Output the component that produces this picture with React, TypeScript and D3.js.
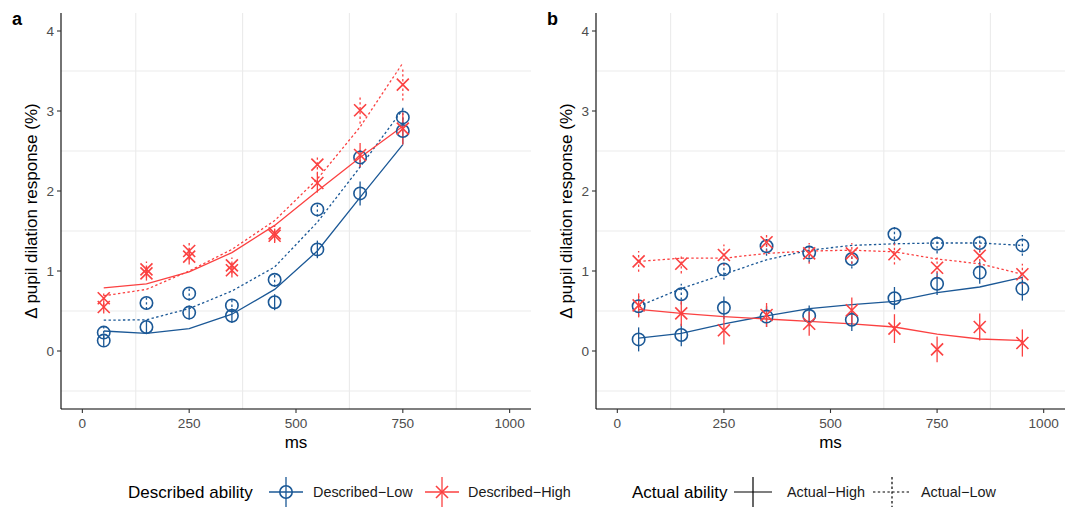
import React from "react";
import * as d3 from "d3";

// ---------- DATA ----------
const msA = [50, 150, 250, 350, 450, 550, 650, 750];
const msB = [50, 150, 250, 350, 450, 550, 650, 750, 850, 950];

// Panel a : points (mean) and error half-widths
const aLowHighPts = [0.13, 0.3, 0.48, 0.44, 0.61, 1.27, 1.97, 2.75];
const aLowLowPts = [0.23, 0.6, 0.72, 0.57, 0.89, 1.77, 2.42, 2.92];
const aHighHighPts = [0.55, 0.97, 1.18, 1.01, 1.44, 2.1, 2.45, 2.78];
const aHighLowPts = [0.66, 1.02, 1.25, 1.07, 1.47, 2.33, 3.01, 3.33];
const aLowHighErr = [0.08, 0.09, 0.09, 0.09, 0.1, 0.11, 0.15, 0.17];
const aLowLowErr = [0.07, 0.08, 0.09, 0.08, 0.09, 0.09, 0.12, 0.15];
const aHighHighErr = [0.08, 0.09, 0.1, 0.09, 0.09, 0.12, 0.15, 0.2];
const aHighLowErr = [0.09, 0.1, 0.11, 0.1, 0.1, 0.12, 0.17, 0.2];
// Panel a : fitted lines
const aLowHighFit = [0.25, 0.22, 0.28, 0.46, 0.77, 1.25, 1.92, 2.58];
const aLowLowFit = [0.385, 0.39, 0.53, 0.75, 1.05, 1.61, 2.3, 3.02];
const aHighHighFit = [0.79, 0.84, 0.99, 1.23, 1.57, 2.0, 2.42, 2.81];
const aHighLowFit = [0.69, 0.77, 1.0, 1.27, 1.63, 2.15, 2.8, 3.6];

// Panel b : points and error half-widths
const bLowHighPts = [0.145, 0.2, 0.54, 0.43, 0.44, 0.39, 0.66, 0.84, 0.98, 0.78];
const bLowLowPts = [0.56, 0.71, 1.02, 1.31, 1.23, 1.15, 1.46, 1.34, 1.35, 1.32];
const bHighHighPts = [0.57, 0.47, 0.26, 0.45, 0.34, 0.51, 0.28, 0.02, 0.3, 0.1];
const bHighLowPts = [1.12, 1.09, 1.2, 1.36, 1.22, 1.22, 1.21, 1.04, 1.19, 0.96];
const bLowHighErr = [0.15, 0.14, 0.14, 0.13, 0.13, 0.14, 0.14, 0.14, 0.14, 0.15];
const bLowLowErr = [0.13, 0.13, 0.13, 0.12, 0.12, 0.12, 0.12, 0.12, 0.12, 0.13];
const bHighHighErr = [0.15, 0.16, 0.18, 0.15, 0.15, 0.16, 0.18, 0.16, 0.17, 0.17];
const bHighLowErr = [0.13, 0.12, 0.13, 0.12, 0.13, 0.13, 0.13, 0.13, 0.13, 0.13];
// Panel b : fitted lines
const bLowHighFit = [0.16, 0.22, 0.34, 0.44, 0.53, 0.58, 0.62, 0.73, 0.8, 0.92];
const bLowLowFit = [0.56, 0.78, 0.96, 1.14, 1.26, 1.32, 1.34, 1.35, 1.35, 1.32];
const bHighHighFit = [0.52, 0.47, 0.43, 0.4, 0.37, 0.34, 0.3, 0.21, 0.15, 0.13];
const bHighLowFit = [1.12, 1.16, 1.16, 1.22, 1.25, 1.26, 1.24, 1.15, 1.09, 0.96];

const xTicks = [0, 250, 500, 750, 1000];
const xMinor = [125, 375, 625, 875];
const yTicks = [0, 1, 2, 3, 4];
const yMinor = [-0.5, 0.5, 1.5, 2.5, 3.5];

const yLabel = "Δ pupil dilation response (%)";
const xLabel = "ms";
const legendDescTitle = "Described ability";
const legendDescLabels = ["Described−Low", "Described−High"];
const legendActTitle = "Actual ability";
const legendActLabels = ["Actual−High", "Actual−Low"];

// ---------- STYLE ----------
const BLUE = "#1b5896";
const RED = "#fb4141";
const FONT = "'Liberation Sans', Arial, Helvetica, sans-serif";
const DOT = "2.4 2.4";
const TOP = 13;
const BOTTOM = 409;

type Series = { pts: number[]; err: number[]; fit: number[]; color: string; shape: "circle" | "x"; dotted: boolean };

function Marker({ x, y, color, shape }: { x: number; y: number; color: string; shape: string }) {
  if (shape === "circle") {
    return <circle cx={x} cy={y} r={6.2} fill="none" stroke={color} strokeWidth={1.6} />;
  }
  const s = 6;
  return (
    <g stroke={color} strokeWidth={1.6}>
      <line x1={x - s} y1={y - s} x2={x + s} y2={y + s} />
      <line x1={x - s} y1={y + s} x2={x + s} y2={y - s} />
    </g>
  );
}

function Panel({ x0, x1, ms, series, label }: { x0: number; x1: number; ms: number[]; series: Series[]; label: string }) {
  const x = d3.scaleLinear().domain([-50, 1050]).range([x0, x1]);
  const y = d3.scaleLinear().domain([-0.725, 4.225]).range([BOTTOM, TOP]);
  const line = d3
    .line<number>()
    .x((_, i) => x(ms[i]))
    .y((d) => y(d));
  return (
    <g>
      {yMinor.map((v) => (
        <line key={"gy" + v} x1={x0} x2={x1} y1={y(v)} y2={y(v)} stroke="#ebebeb" strokeWidth={1.1} />
      ))}
      {xMinor.map((v) => (
        <line key={"gx" + v} x1={x(v)} x2={x(v)} y1={TOP} y2={BOTTOM} stroke="#ebebeb" strokeWidth={1.1} />
      ))}
      {series.map((s, k) => (
        <path
          key={"l" + k}
          d={line(s.fit) || ""}
          fill="none"
          stroke={s.color}
          strokeWidth={1.3}
          strokeDasharray={s.dotted ? DOT : undefined}
        />
      ))}
      {series.map((s, k) =>
        s.pts.map((p, i) => (
          <line
            key={"e" + k + "-" + i}
            x1={x(ms[i])}
            x2={x(ms[i])}
            y1={y(p - s.err[i])}
            y2={y(p + s.err[i])}
            stroke={s.color}
            strokeWidth={1.3}
            strokeDasharray={s.dotted ? DOT : undefined}
          />
        ))
      )}
      {series.map((s, k) =>
        s.pts.map((p, i) => <Marker key={"p" + k + "-" + i} x={x(ms[i])} y={y(p)} color={s.color} shape={s.shape} />)
      )}
      <line x1={x0} x2={x0} y1={TOP} y2={BOTTOM} stroke="#000" strokeWidth={1.1} />
      <line x1={x0} x2={x1} y1={BOTTOM} y2={BOTTOM} stroke="#000" strokeWidth={1.1} />
      {yTicks.map((t) => (
        <g key={"yt" + t}>
          <line x1={x0 - 4} x2={x0} y1={y(t)} y2={y(t)} stroke="#333" strokeWidth={1.1} />
          <text x={x0 - 7} y={y(t)} dy="0.35em" textAnchor="end" fontSize={13.6} fill="#4d4d4d" fontFamily={FONT}>
            {t}
          </text>
        </g>
      ))}
      {xTicks.map((t) => (
        <g key={"xt" + t}>
          <line x1={x(t)} x2={x(t)} y1={BOTTOM} y2={BOTTOM + 4} stroke="#333" strokeWidth={1.1} />
          <text x={x(t)} y={BOTTOM + 19} textAnchor="middle" fontSize={13.6} fill="#4d4d4d" fontFamily={FONT}>
            {t}
          </text>
        </g>
      ))}
      <text x={(x0 + x1) / 2} y={BOTTOM + 39} textAnchor="middle" fontSize={17} fill="#000" fontFamily={FONT}>
        {xLabel}
      </text>
      <text
        transform={`translate(${x0 - 24},${(TOP + BOTTOM) / 2}) rotate(-90)`}
        textAnchor="middle"
        fontSize={17}
        fill="#000"
        fontFamily={FONT}
      >
        {yLabel}
      </text>
      <text x={x0 - 49} y={25} fontSize={18} fontWeight="bold" fill="#000" fontFamily={FONT}>
        {label}
      </text>
    </g>
  );
}

function Legend() {
  const cy = 492;
  const ty = 497;
  const kh = 17;
  const kv = 15;
  const descKeys = [
    { cx: 286, color: BLUE, shape: "circle", tx: 313 },
    { cx: 442, color: RED, shape: "x", tx: 468 },
  ];
  const actKeys = [
    { cx: 753, dotted: false, tx: 787 },
    { cx: 892, dotted: true, tx: 921 },
  ];
  return (
    <g fontFamily={FONT}>
      <text x={128} y={ty + 1} fontSize={17} fill="#000">
        {legendDescTitle}
      </text>
      {descKeys.map((k, i) => (
        <g key={"dk" + i}>
          <line x1={k.cx - kh} x2={k.cx + kh} y1={cy} y2={cy} stroke={k.color} strokeWidth={1.3} />
          <line x1={k.cx} x2={k.cx} y1={cy - kv} y2={cy + kv} stroke={k.color} strokeWidth={1.3} />
          <Marker x={k.cx} y={cy} color={k.color} shape={k.shape} />
          <text x={k.tx} y={ty} fontSize={14.4} fill="#1a1a1a">
            {legendDescLabels[i]}
          </text>
        </g>
      ))}
      <text x={632} y={ty + 1} fontSize={17} fill="#000">
        {legendActTitle}
      </text>
      {actKeys.map((k, i) => (
        <g key={"ak" + i}>
          <line
            x1={k.cx - kh - 2}
            x2={k.cx + kh + 2}
            y1={cy}
            y2={cy}
            stroke="#000"
            strokeWidth={1.2}
            strokeDasharray={k.dotted ? DOT : undefined}
          />
          <line
            x1={k.cx}
            x2={k.cx}
            y1={cy - kv}
            y2={cy + kv}
            stroke="#000"
            strokeWidth={1.2}
            strokeDasharray={k.dotted ? DOT : undefined}
          />
          <text x={k.tx} y={ty} fontSize={14.4} fill="#1a1a1a">
            {legendActLabels[i]}
          </text>
        </g>
      ))}
    </g>
  );
}

export default function App() {
  const seriesA: Series[] = [
    { pts: aLowHighPts, err: aLowHighErr, fit: aLowHighFit, color: BLUE, shape: "circle", dotted: false },
    { pts: aLowLowPts, err: aLowLowErr, fit: aLowLowFit, color: BLUE, shape: "circle", dotted: true },
    { pts: aHighHighPts, err: aHighHighErr, fit: aHighHighFit, color: RED, shape: "x", dotted: false },
    { pts: aHighLowPts, err: aHighLowErr, fit: aHighLowFit, color: RED, shape: "x", dotted: true },
  ];
  const seriesB: Series[] = [
    { pts: bLowHighPts, err: bLowHighErr, fit: bLowHighFit, color: BLUE, shape: "circle", dotted: false },
    { pts: bLowLowPts, err: bLowLowErr, fit: bLowLowFit, color: BLUE, shape: "circle", dotted: true },
    { pts: bHighHighPts, err: bHighHighErr, fit: bHighHighFit, color: RED, shape: "x", dotted: false },
    { pts: bHighLowPts, err: bHighLowErr, fit: bHighLowFit, color: RED, shape: "x", dotted: true },
  ];
  return (
    <svg width={1070} height={508} style={{ position: "absolute", left: 0, top: 0, background: "#fff" }}>
      <rect width={1070} height={508} fill="#fff" />
      <Panel x0={61} x1={531} ms={msA} series={seriesA} label="a" />
      <Panel x0={596} x1={1065} ms={msB} series={seriesB} label="b" />
      <Legend />
    </svg>
  );
}
